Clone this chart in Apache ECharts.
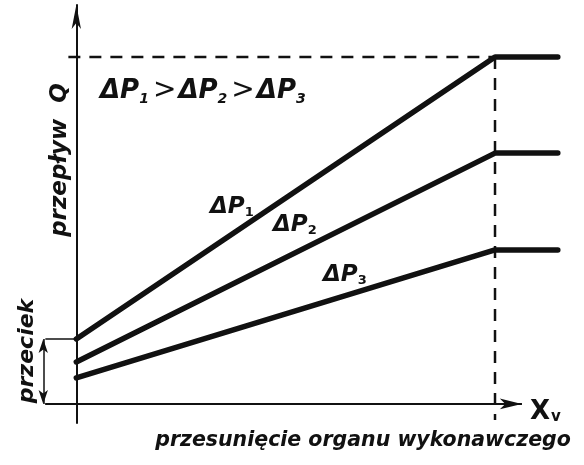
<!DOCTYPE html>
<html>
<head>
<meta charset="utf-8">
<script src="https://cdn.jsdelivr.net/npm/echarts@6/dist/echarts.min.js"></script>
<style>
  html, body { margin: 0; padding: 0; background: #fff; }
  #chart { width: 584px; height: 465px; }
</style>
</head>
<body>
<div id="chart"></div>
<script>
// Valve stroke (x, % of full opening) and flow (y, % of max flow)
const strokeX = [0, 100, 115];
const flowDP1 = [18.7, 100, 100];
const flowDP2 = [12.1, 72.3, 72.3];
const flowDP3 = [7.5, 44.4, 44.4];
const seriesNames = ['ΔP1', 'ΔP2', 'ΔP3'];
const fullStroke = 100;
const maxFlow = 100;
const leakage = flowDP1[0];
const strokeAxisEnd = 106.4;

const INK = '#111';
const FONT = 'DejaVu Sans';

function pts(ys) { return strokeX.map((x, i) => [x, ys[i]]); }

const chart = echarts.init(document.getElementById('chart'), null, { renderer: 'canvas' });

const curveStyle = { color: INK, width: 5.5, cap: 'round' };

function dpLabel(x, y, sub) {
  return { type: 'text', x: x, y: y, style: {
    text: '{p|ΔP}{s|' + sub + '}', rich: {
      p: { fontFamily: FONT, fontStyle: 'italic', fontWeight: 'bold', fontSize: 23, fill: INK },
      s: { fontFamily: FONT, fontWeight: 'bold', fontSize: 13, fill: INK, padding: [11, 0, 0, 0] } } } };
}

chart.setOption({
  animation: false,
  backgroundColor: '#fff',
  grid: { left: 42, right: 22, top: 5, bottom: 42 },
  xAxis: {
    type: 'value', min: -8.2, max: 116,
    axisLine: { show: false },
    axisTick: { show: false }, axisLabel: { show: false }, splitLine: { show: false }
  },
  yAxis: {
    type: 'value', min: -5.5, max: 115,
    axisLine: { onZero: true, symbol: ['none', 'arrow'], symbolSize: [7, 24],
      lineStyle: { color: INK, width: 2 } },
    axisTick: { show: false }, axisLabel: { show: false }, splitLine: { show: false }
  },
  series: [
    // stroke axis with its arrow head
    { type: 'line', name: 'Xv', data: [[-7.4, 0], [strokeAxisEnd, 0]], symbol: 'none',
      lineStyle: { color: INK, width: 2 },
      markLine: {
        silent: true, symbol: ['none', 'arrow'], symbolSize: [8, 22],
        lineStyle: { color: INK, width: 2, type: 'solid' }, label: { show: false },
        data: [[{ coord: [-7.4, 0] }, { coord: [strokeAxisEnd, 0] }]]
      } },
    { type: 'line', name: 'Qmax', data: [[-1.9, maxFlow], [fullStroke, maxFlow]], symbol: 'none',
      lineStyle: { color: INK, width: 2.5, type: [12, 9] }, silent: true },
    { type: 'line', name: 'xmax', data: [[fullStroke, maxFlow], [fullStroke, -4.6]], symbol: 'none',
      lineStyle: { color: INK, width: 2.5, type: [12, 9] }, silent: true },
    { type: 'line', name: seriesNames[0], data: pts(flowDP1), symbol: 'none', lineStyle: curveStyle },
    { type: 'line', name: seriesNames[1], data: pts(flowDP2), symbol: 'none', lineStyle: curveStyle },
    { type: 'line', name: seriesNames[2], data: pts(flowDP3), symbol: 'none', lineStyle: curveStyle },
    { type: 'line', name: 'przeciek', data: [[-7.4, leakage], [0, leakage]], symbol: 'none',
      lineStyle: { color: INK, width: 1.5 },
      markLine: {
        silent: true, symbol: ['arrow', 'arrow'], symbolSize: [7, 14],
        lineStyle: { color: INK, width: 1.5, type: 'solid' }, label: { show: false },
        data: [[{ coord: [-7.9, 0] }, { coord: [-7.9, leakage] }]]
      } }
  ],
  graphic: [
    { type: 'text', x: 100, y: 76, style: {
        text: '{p|ΔP}{s|1}{g|>}{p|ΔP}{s|2}{g|>}{p|ΔP}{s|3}', fill: INK,
        rich: {
          p: { fontFamily: FONT, fontStyle: 'italic', fontWeight: 'bold', fontSize: 26, fill: INK },
          g: { fontFamily: FONT, fontSize: 28, fill: INK, padding: [0, 2, 0, 2] },
          s: { fontFamily: FONT, fontStyle: 'italic', fontWeight: 'bold', fontSize: 14, fill: INK, padding: [16, 2, 0, 0] }
        } } },
    dpLabel(210, 195, '1'),
    dpLabel(273, 213, '2'),
    dpLabel(323, 263, '3'),
    { type: 'text', x: 530, y: 399, style: {
        text: '{a|X}{b|v}', rich: {
          a: { fontFamily: FONT, fontWeight: 'bold', fontSize: 26, fill: INK },
          b: { fontFamily: FONT, fontWeight: 'bold', fontSize: 15, fill: INK, padding: [11, 0, 0, 1] } } } },
    { type: 'text', x: 363, y: 441, style: {
        text: 'przesunięcie organu wykonawczego', fill: INK, align: 'center', verticalAlign: 'middle',
        font: 'italic bold 20.5px "DejaVu Sans"' } },
    { type: 'text', x: 60, y: 160, rotation: Math.PI / 2, style: {
        text: 'przepływ  Q', fill: INK, align: 'center', verticalAlign: 'middle',
        font: 'italic bold 23px "DejaVu Sans"' } },
    { type: 'text', x: 27, y: 351, rotation: Math.PI / 2, style: {
        text: 'przeciek', fill: INK, align: 'center', verticalAlign: 'middle',
        font: 'italic bold 22px "DejaVu Sans"' } }
  ]
});
</script>
</body>
</html>
